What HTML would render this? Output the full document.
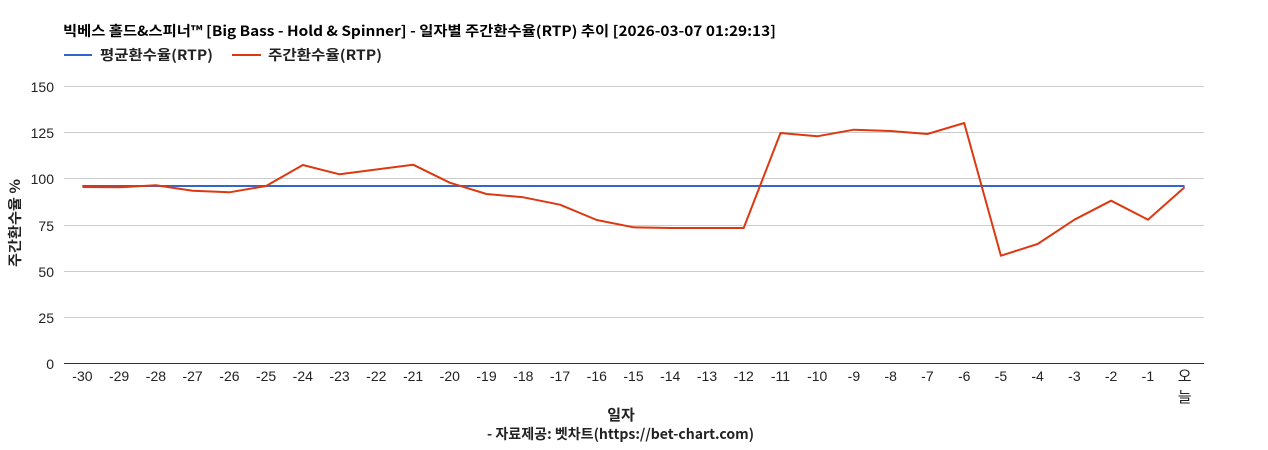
<!DOCTYPE html>
<html><head><meta charset="utf-8"><style>
html,body{margin:0;padding:0;background:#fff;}
svg{display:block;}
text{font-family:"Liberation Sans","Noto Sans CJK KR",sans-serif;}
.k{font-family:"Noto Sans CJK KR","Liberation Sans",sans-serif;}
</style></head><body>
<svg width="1268" height="450" viewBox="0 0 1268 450" xmlns="http://www.w3.org/2000/svg">
<rect width="1268" height="450" fill="#fff"/>
<text x="63" y="36" class="k" font-size="14" font-weight="bold" fill="#000" textLength="713" lengthAdjust="spacingAndGlyphs">빅베스 홀드&amp;스피너™ [Big Bass - Hold &amp; Spinner] - 일자별 주간환수율(RTP) 추이 [2026-03-07 01:29:13]</text>
<line x1="64" y1="55" x2="92" y2="55" stroke="#3366cc" stroke-width="2"/>
<text x="100" y="60" class="k" font-size="14" font-weight="bold" fill="#222" textLength="113" lengthAdjust="spacingAndGlyphs">평균환수율(RTP)</text>
<line x1="232" y1="55" x2="261" y2="55" stroke="#dc3912" stroke-width="2"/>
<text x="268" y="60" class="k" font-size="14" font-weight="bold" fill="#222" textLength="114" lengthAdjust="spacingAndGlyphs">주간환수율(RTP)</text>
<g stroke="#cccccc" stroke-width="1">
<line x1="64" y1="86.5" x2="1204" y2="86.5"/>
<line x1="64" y1="132.5" x2="1204" y2="132.5"/>
<line x1="64" y1="178.5" x2="1204" y2="178.5"/>
<line x1="64" y1="225.5" x2="1204" y2="225.5"/>
<line x1="64" y1="271.5" x2="1204" y2="271.5"/>
<line x1="64" y1="317.5" x2="1204" y2="317.5"/>
</g>
<line x1="64" y1="363.5" x2="1204" y2="363.5" stroke="#333" stroke-width="1"/>
<g font-size="14" fill="#222" text-anchor="end">
<text x="54" y="92">150</text>
<text x="54" y="138">125</text>
<text x="54" y="184">100</text>
<text x="54" y="231">75</text>
<text x="54" y="277">50</text>
<text x="54" y="323">25</text>
<text x="54" y="369">0</text>
</g>
<text transform="translate(20,223) rotate(-90)" class="k" font-size="14" font-weight="bold" fill="#222" text-anchor="middle" textLength="88" lengthAdjust="spacingAndGlyphs">주간환수율 %</text>
<g font-size="14" fill="#222" text-anchor="middle">
<text x="82.4" y="381">-30</text>
<text x="119.1" y="381">-29</text>
<text x="155.9" y="381">-28</text>
<text x="192.6" y="381">-27</text>
<text x="229.4" y="381">-26</text>
<text x="266.1" y="381">-25</text>
<text x="302.8" y="381">-24</text>
<text x="339.6" y="381">-23</text>
<text x="376.3" y="381">-22</text>
<text x="413.1" y="381">-21</text>
<text x="449.8" y="381">-20</text>
<text x="486.5" y="381">-19</text>
<text x="523.3" y="381">-18</text>
<text x="560.0" y="381">-17</text>
<text x="596.8" y="381">-16</text>
<text x="633.5" y="381">-15</text>
<text x="670.2" y="381">-14</text>
<text x="707.0" y="381">-13</text>
<text x="743.7" y="381">-12</text>
<text x="780.5" y="381">-11</text>
<text x="817.2" y="381">-10</text>
<text x="853.9" y="381">-9</text>
<text x="890.7" y="381">-8</text>
<text x="927.4" y="381">-7</text>
<text x="964.2" y="381">-6</text>
<text x="1000.9" y="381">-5</text>
<text x="1037.6" y="381">-4</text>
<text x="1074.4" y="381">-3</text>
<text x="1111.1" y="381">-2</text>
<text x="1147.9" y="381">-1</text>
<text x="1184.6" y="381" class="k" font-size="15">오</text>
<text x="1184.6" y="402" class="k" font-size="15">늘</text>
</g>
<line x1="82.4" y1="186" x2="1184.6" y2="186" stroke="#3366cc" stroke-width="2"/>
<polyline fill="none" stroke="#dc3912" stroke-width="2" stroke-linejoin="round" points="82.4,187 119.1,187.3 155.9,185.3 192.6,190.7 229.4,192.3 266.1,186 302.8,165 339.6,174.3 376.3,169.5 413.1,164.7 449.8,182.7 486.5,194 523.3,197.3 560.0,204.7 596.8,220 633.5,227.3 670.2,228 707.0,228 743.7,228 780.5,133 817.2,136.3 853.9,129.7 890.7,131 927.4,134 964.2,123 1000.9,255.7 1037.6,244 1074.4,219.7 1111.1,200.7 1147.9,219.7 1184.6,187.3"/>
<text x="621" y="420" class="k" font-size="15" font-weight="bold" fill="#222" text-anchor="middle">일자</text>
<text x="620.5" y="439" class="k" font-size="14" font-weight="bold" fill="#222" text-anchor="middle" textLength="267" lengthAdjust="spacingAndGlyphs">- 자료제공: 벳차트(https://bet-chart.com)</text>
</svg>
</body></html>
